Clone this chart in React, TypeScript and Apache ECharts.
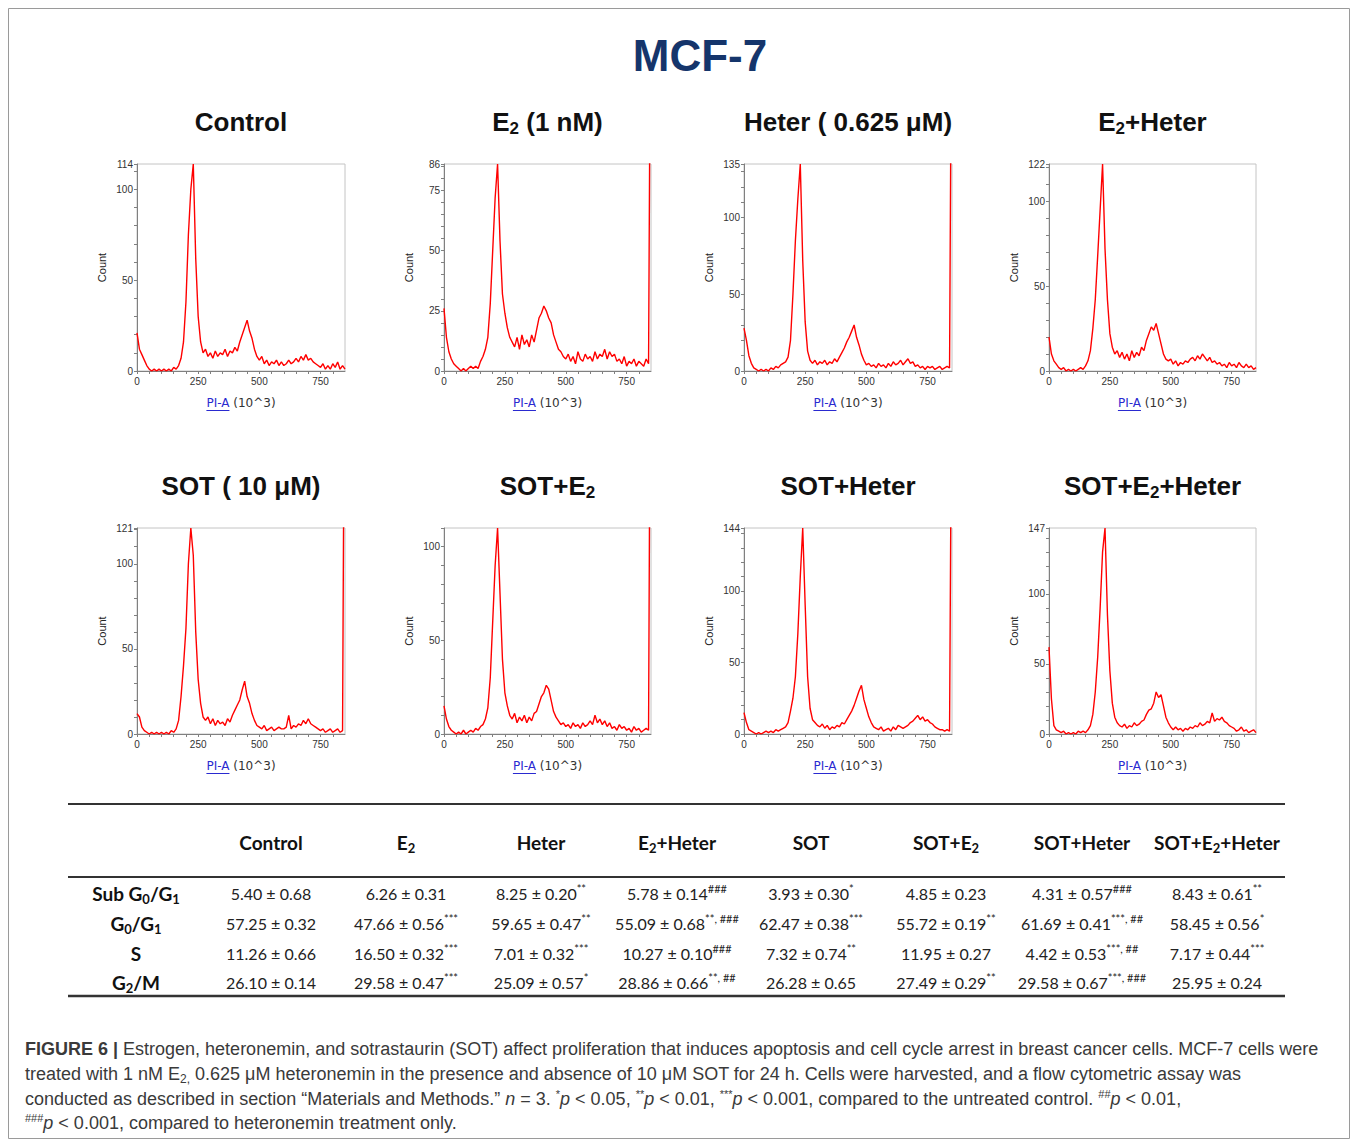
import React, { useEffect, useRef } from "react";
import * as echarts from "echarts";

// ---------- data ----------
const BINS = [
  0, 10, 20, 30, 40, 50, 60, 70, 80, 90,
  100, 110, 120, 130, 140, 150, 160, 170, 180, 190,
  200, 210, 220, 230, 240, 250, 260, 270, 280, 290,
  300, 310, 320, 330, 340, 350, 360, 370, 380, 390,
  400, 410, 420, 430, 440, 450, 460, 470, 480, 490,
  500, 510, 520, 530, 540, 550, 560, 570, 580, 590,
  600, 610, 620, 630, 640, 650, 660, 670, 680, 690,
  700, 710, 720, 730, 740, 750, 760, 770, 780, 790,
  800, 810, 820, 830, 840, 850,
];

const CONTROL = [
  21, 12, 9, 6, 3, 1, 0, 1, 0, 1,
  0, 1, 0, 1, 0, 2, 1, 3, 7, 16,
  38, 75, 100, 114, 62, 30, 16, 10, 12, 8,
  10, 7, 11, 8, 10, 9, 12, 8, 11, 10,
  13, 11, 16, 20, 24, 28, 22, 18, 12, 8,
  6, 8, 4, 6, 3, 5, 4, 6, 3, 5,
  3, 4, 6, 4, 5, 7, 5, 8, 6, 9,
  6, 7, 5, 4, 3, 2, 4, 1, 3, 1,
  4, 2, 5, 1, 3, 1,
];
const E2 = [
  26, 14, 8, 5, 3, 2, 1, 0, 1, 0,
  1, 2, 1, 2, 1, 4, 6, 9, 14, 28,
  50, 72, 86, 54, 32, 24, 18, 14, 12, 10,
  14, 9, 15, 11, 13, 10, 15, 12, 17, 22,
  24, 27, 25, 22, 20, 15, 12, 9, 8, 6,
  5, 7, 4, 6, 3, 8, 5, 4, 7, 5,
  6, 4, 8, 5, 7, 6, 9, 5, 8, 6,
  7, 4, 5, 3, 6, 2, 4, 3, 5, 2,
  4, 3, 2, 5, 3, 200,
];
const HETER = [
  28, 20, 10, 5, 2, 1, 0, 1, 0, 1,
  0, 2, 1, 3, 2, 4, 5, 6, 9, 20,
  50, 85, 112, 135, 72, 32, 13, 7, 5, 7,
  4, 6, 5, 7, 4, 6, 5, 8, 6, 9,
  12, 15, 19, 22, 26, 30, 22, 17, 11, 7,
  4, 5, 3, 4, 2, 5, 3, 4, 2, 5,
  3, 6, 4, 5, 7, 4, 6, 8, 5, 6,
  3, 4, 2, 3, 1, 3, 2, 3, 1, 2,
  3, 1, 2, 3, 2, 300,
];
const E2_HETER = [
  20, 10, 6, 4, 2, 1, 2, 0, 1, 0,
  1, 0, 1, 2, 1, 3, 6, 12, 25, 42,
  68, 95, 122, 72, 42, 22, 14, 10, 12, 8,
  11, 7, 10, 6, 12, 8, 11, 9, 14, 12,
  18, 22, 26, 24, 28, 22, 16, 10, 7, 6,
  7, 4, 6, 3, 5, 4, 6, 5, 7, 8,
  6, 9, 7, 10, 8, 6, 8, 5, 6, 4,
  5, 3, 4, 2, 5, 3, 4, 2, 5, 3,
  2, 4, 2, 3, 1, 2,
];
const SOT = [
  12, 10, 4, 2, 1, 0, 1, 0, 1, 0,
  1, 0, 1, 0, 2, 1, 3, 8, 22, 40,
  62, 100, 121, 105, 60, 32, 18, 10, 8, 10,
  6, 9, 5, 8, 6, 7, 5, 9, 7, 11,
  14, 17, 20, 26, 31, 22, 18, 12, 8, 5,
  4, 3, 5, 2, 3, 4, 2, 3, 4, 3,
  3, 4, 11, 3, 5, 4, 6, 5, 8, 6,
  9, 6, 5, 4, 3, 2, 3, 1, 2, 3,
  1, 2, 3, 1, 2, 300,
];
const SOT_E2 = [
  15, 8, 4, 2, 1, 0, 1, 0, 2, 0,
  1, 2, 1, 3, 2, 4, 5, 8, 14, 30,
  60, 90, 110, 75, 40, 22, 15, 10, 8, 11,
  6, 9, 7, 10, 6, 9, 7, 11, 12, 16,
  20, 22, 26, 24, 18, 12, 9, 7, 5, 6,
  4, 5, 3, 6, 4, 5, 3, 6, 4, 5,
  7, 5, 10, 6, 8, 5, 7, 4, 6, 3,
  4, 2, 5, 3, 4, 2, 3, 1, 4, 2,
  3, 1, 2, 3, 2, 300,
];
const SOT_HETER = [
  15, 8, 3, 2, 1, 0, 1, 0, 1, 2,
  1, 2, 1, 3, 2, 3, 4, 5, 8, 16,
  25, 40, 70, 110, 144, 90, 40, 18, 10, 8,
  6, 5, 7, 4, 6, 3, 5, 4, 6, 5,
  8, 7, 10, 13, 16, 20, 25, 30, 34, 24,
  18, 12, 8, 5, 4, 3, 5, 2, 3, 4,
  2, 5, 3, 6, 5, 4, 5, 6, 8, 9,
  11, 13, 10, 12, 9, 10, 8, 7, 5, 4,
  3, 3, 2, 3, 2, 300,
];
const SOT_E2_HETER = [
  62, 25, 6, 3, 2, 1, 2, 0, 1, 0,
  1, 0, 2, 1, 2, 1, 3, 6, 14, 30,
  55, 90, 130, 147, 85, 45, 22, 12, 8, 6,
  5, 7, 4, 6, 5, 8, 6, 7, 9, 10,
  14, 17, 18, 22, 30, 26, 28, 20, 12, 8,
  5, 3, 5, 3, 4, 2, 4, 3, 5, 4,
  6, 5, 8, 6, 7, 9, 8, 15, 9, 11,
  10, 12, 9, 8, 6, 5, 4, 2, 3, 5,
  2, 3, 1, 2, 3, 1,
];

const PANEL_DATA = [CONTROL, E2, HETER, E2_HETER, SOT, SOT_E2, SOT_HETER, SOT_E2_HETER];
const PANEL_TITLES = [
  "{t|Control}",
  "{t|E}{s|2}{t| (1 nM)}",
  "{t|Heter ( 0.625 μM)}",
  "{t|E}{s|2}{t|+Heter}",
  "{t|SOT ( 10 μM)}",
  "{t|SOT+E}{s|2}",
  "{t|SOT+Heter}",
  "{t|SOT+E}{s|2}{t|+Heter}",
];
const Y_MAX = [114, 86, 135, 122, 121, 110, 144, 147];
const Y_LABELS = [
  [0, 50, 100, 114],
  [0, 25, 50, 75, 86],
  [0, 50, 100, 135],
  [0, 50, 100, 122],
  [0, 50, 100, 121],
  [0, 50, 100],
  [0, 50, 100, 144],
  [0, 50, 100, 147],
];
const Y_TICK_STEP = [10, 5, 10, 10, 10, 10, 10, 10];
const X_LABELS = [0, 250, 500, 750];
const X_MAX = 850;

// table
const GROUPS = [
  "{h|Control}",
  "{h|E}{hs|2}",
  "{h|Heter}",
  "{h|E}{hs|2}{h|+Heter}",
  "{h|SOT}",
  "{h|SOT+E}{hs|2}",
  "{h|SOT+Heter}",
  "{h|SOT+E}{hs|2}{h|+Heter}",
];
const PHASES = [
  "{h|Sub G}{hs|0}{h|/G}{hs|1}",
  "{h|G}{hs|0}{h|/G}{hs|1}",
  "{h|S}",
  "{h|G}{hs|2}{h|/M}",
];
const SUB_MEAN = [5.40, 6.26, 8.25, 5.78, 3.93, 4.85, 4.31, 8.43];
const SUB_SD = [0.68, 0.31, 0.20, 0.14, 0.30, 0.23, 0.57, 0.61];
const SUB_SIG = ["", "", "**", "###", "*", "", "###", "**"];
const G0G1_MEAN = [57.25, 47.66, 59.65, 55.09, 62.47, 55.72, 61.69, 58.45];
const G0G1_SD = [0.32, 0.56, 0.47, 0.68, 0.38, 0.19, 0.41, 0.56];
const G0G1_SIG = ["", "***", "**", "**, ###", "***", "**", "***, ##", "*"];
const S_MEAN = [11.26, 16.50, 7.01, 10.27, 7.32, 11.95, 4.42, 7.17];
const S_SD = [0.66, 0.32, 0.32, 0.10, 0.74, 0.27, 0.53, 0.44];
const S_SIG = ["", "***", "***", "###", "**", "", "***, ##", "***"];
const G2M_MEAN = [26.10, 29.58, 25.09, 28.86, 26.28, 27.49, 29.58, 25.95];
const G2M_SD = [0.14, 0.47, 0.57, 0.66, 0.65, 0.29, 0.67, 0.24];
const G2M_SIG = ["", "***", "*", "**, ##", "", "**", "***, ###", ""];

const CAPTION = [
  "{b|FIGURE 6 | }{r|Estrogen, heteronemin, and sotrastaurin (SOT) affect proliferation that induces apoptosis and cell cycle arrest in breast cancer cells. MCF-7 cells were}",
  "{r|treated with 1 nM E}{sub|2,}{r| 0.625 μM heteronemin in the presence and absence of 10 μM SOT for 24 h. Cells were harvested, and a flow cytometric assay was}",
  "{r|conducted as described in section “Materials and Methods.” }{i|n}{r| = 3. }{sup|*}{i|p}{r| < 0.05, }{sup|**}{i|p}{r| < 0.01, }{sup|***}{i|p}{r| < 0.001, compared to the untreated control. }{sup|##}{i|p}{r| < 0.01,}",
  "{sup|###}{i|p}{r| < 0.001, compared to heteronemin treatment only.}",
];

// ---------- layout ----------
const W = 1357;
const H = 1141;
const GRID_LEFT = [137, 444, 744, 1049];
const GRID_W = [208, 207, 208, 207];
const GRID_TOP = [164, 528];
const GRID_H = [207, 206];
const TITLE_Y = [122, 486];
const ARIAL = '"Liberation Sans", Arial, Helvetica, sans-serif';
const DEJAVU = '"DejaVu Sans", Verdana, sans-serif';
const TABLE_FONT = 'Lato, "Open Sans", sans-serif';

const COL_X = [271, 406, 541, 677, 811, 946, 1082, 1217];
const ROW_LABEL_X = 136;
const HEADER_Y = 842;
const ROW_Y = [893, 923, 953, 982];

function ticks(max: number, step: number) {
  const out: number[] = [];
  for (let v = 0; v <= max; v += step) out.push(v);
  return out;
}

function buildOption() {
  const grids: any[] = [];
  const xAxes: any[] = [];
  const yAxes: any[] = [];
  const series: any[] = [];
  const graphics: any[] = [];

  // measure the axis title pieces
  const ctx = document.createElement("canvas").getContext("2d")!;
  ctx.font = '12px "DejaVu Sans"';
  const wA = ctx.measureText("PI-A").width;
  const wSp = ctx.measureText(" ").width;
  const wB = ctx.measureText("(10^3)").width;

  for (let i = 0; i < 8; i++) {
    const col = i % 4;
    const row = Math.floor(i / 4);
    const left = GRID_LEFT[col];
    const width = GRID_W[col];
    const top = GRID_TOP[row];
    const height = GRID_H[row];
    grids.push({
      left,
      top,
      width,
      height,
      show: true,
      borderColor: "#c4c4c4",
      borderWidth: 1,
      backgroundColor: "transparent",
      containLabel: false,
      outerBoundsMode: "none",
    });
    xAxes.push({
      type: "value",
      gridIndex: i,
      min: 0,
      max: X_MAX,
      axisLine: { show: true, onZero: false, lineStyle: { color: "#808080", width: 1 } },
      axisTick: {
        show: true,
        length: 3,
        customValues: ticks(X_MAX - 50, 50),
        lineStyle: { color: "#808080" },
      },
      axisLabel: {
        customValues: X_LABELS,
        fontSize: 10,
        color: "#333",
        fontFamily: ARIAL,
        margin: 5,
      },
      splitLine: { show: false },
    });
    yAxes.push({
      type: "value",
      gridIndex: i,
      min: 0,
      max: Y_MAX[i],
      axisLine: { show: true, onZero: false, lineStyle: { color: "#808080", width: 1 } },
      axisTick: {
        show: true,
        length: 3,
        customValues: ticks(Y_MAX[i], Y_TICK_STEP[i]).concat([Y_MAX[i]]),
        lineStyle: { color: "#808080" },
      },
      axisLabel: {
        customValues: Y_LABELS[i],
        fontSize: 10,
        color: "#333",
        fontFamily: ARIAL,
        margin: 4,
      },
      splitLine: { show: false },
      name: "Count",
      nameLocation: "middle",
      nameGap: 30,
      nameRotate: 90,
      nameTextStyle: { fontSize: 11, color: "#222", fontFamily: ARIAL },
    });
    series.push({
      type: "line",
      xAxisIndex: i,
      yAxisIndex: i,
      data: BINS.map((x, k) => [x, PANEL_DATA[i][k]]),
      symbol: "none",
      clip: true,
      lineStyle: { color: "#ff0000", width: 1.4 },
      itemStyle: { color: "#ff0000" },
      silent: true,
    });

    // panel title
    graphics.push({
      type: "text",
      x: left + width / 2,
      y: TITLE_Y[row],
      style: {
        text: PANEL_TITLES[i],
        align: "center",
        verticalAlign: "middle",
        rich: {
          t: { fontSize: 26, fontWeight: "bold", fontFamily: ARIAL, fill: "#111", color: "#111", lineHeight: 30 },
          s: {
            fontSize: 17,
            fontWeight: "bold",
            fontFamily: ARIAL,
            fill: "#111",
            color: "#111",
            lineHeight: 17,
            verticalAlign: "bottom",
          },
        },
      },
    });

    // x axis title: PI-A (10^3)
    const cx = left + width / 2;
    const ny = top + height + 32;
    const x0 = cx - (wA + wSp + wB) / 2;
    graphics.push({
      type: "text",
      x: x0,
      y: ny,
      style: {
        text: "PI-A",
        fontSize: 12,
        fontFamily: DEJAVU,
        fill: "#2a2ad0",
        align: "left",
        verticalAlign: "middle",
      },
    });
    graphics.push({
      type: "line",
      shape: { x1: x0, y1: ny + 7.5, x2: x0 + wA, y2: ny + 7.5 },
      style: { stroke: "#2a2ad0", lineWidth: 1 },
    });
    graphics.push({
      type: "text",
      x: x0 + wA + wSp,
      y: ny,
      style: {
        text: "(10^3)",
        fontSize: 12,
        fontFamily: DEJAVU,
        fill: "#333",
        align: "left",
        verticalAlign: "middle",
      },
    });
  }

  // outer frame
  graphics.push({
    type: "rect",
    shape: { x: 8.5, y: 8.5, width: 1341, height: 1130 },
    style: { fill: "none", stroke: "#9a9a9a", lineWidth: 1 },
    z: -1,
  });

  // main title
  graphics.push({
    type: "text",
    x: 700,
    y: 55,
    style: {
      text: "MCF-7",
      fontSize: 44,
      fontWeight: "bold",
      fontFamily: ARIAL,
      fill: "#15356b",
      align: "center",
      verticalAlign: "middle",
    },
  });

  // table rules
  const rule = (y: number, w: number) => ({
    type: "line",
    shape: { x1: 68, y1: y, x2: 1285, y2: y },
    style: { stroke: "#333", lineWidth: w },
  });
  graphics.push(rule(804, 2), rule(877, 2), rule(996, 2.5));

  const headRich = {
    h: { fontSize: 19, fontWeight: "bold", fontFamily: TABLE_FONT, fill: "#111", color: "#111", lineHeight: 24 },
    hs: {
      fontSize: 13,
      fontWeight: "bold",
      fontFamily: TABLE_FONT,
      fill: "#111",
      color: "#111",
      lineHeight: 13,
      verticalAlign: "bottom",
    },
  };
  GROUPS.forEach((g, c) => {
    graphics.push({
      type: "text",
      x: COL_X[c],
      y: HEADER_Y,
      style: { text: g, align: "center", verticalAlign: "middle", rich: headRich },
    });
  });
  PHASES.forEach((p, r) => {
    graphics.push({
      type: "text",
      x: ROW_LABEL_X,
      y: ROW_Y[r],
      style: { text: p, align: "center", verticalAlign: "middle", rich: headRich },
    });
  });

  const cellRich = {
    v: { fontSize: 16, fontFamily: TABLE_FONT, fill: "#222", color: "#222", lineHeight: 20 },
    sup: {
      fontSize: 11,
      fontFamily: TABLE_FONT,
      fill: "#222",
      color: "#222",
      lineHeight: 10,
      verticalAlign: "top",
    },
  };
  const rows = [
    [SUB_MEAN, SUB_SD, SUB_SIG],
    [G0G1_MEAN, G0G1_SD, G0G1_SIG],
    [S_MEAN, S_SD, S_SIG],
    [G2M_MEAN, G2M_SD, G2M_SIG],
  ] as [number[], number[], string[]][];
  rows.forEach(([m, s, sig], r) => {
    for (let c = 0; c < 8; c++) {
      const txt =
        "{v|" + m[c].toFixed(2) + " ± " + s[c].toFixed(2) + "}" + (sig[c] ? "{sup|" + sig[c] + "}" : "");
      graphics.push({
        type: "text",
        x: COL_X[c],
        y: ROW_Y[r],
        style: { text: txt, align: "center", verticalAlign: "middle", rich: cellRich },
      });
    }
  });

  // caption
  const capRich = {
    r: { fontSize: 18, fontFamily: ARIAL, fill: "#3a3a3a", color: "#3a3a3a", lineHeight: 22 },
    b: { fontSize: 18, fontWeight: "bold", fontFamily: ARIAL, fill: "#3a3a3a", color: "#3a3a3a", lineHeight: 22 },
    i: { fontSize: 18, fontStyle: "italic", fontFamily: ARIAL, fill: "#3a3a3a", color: "#3a3a3a", lineHeight: 22 },
    sup: { fontSize: 11, fontFamily: ARIAL, fill: "#3a3a3a", color: "#3a3a3a", lineHeight: 11, verticalAlign: "top" },
    sub: { fontSize: 12, fontFamily: ARIAL, fill: "#3a3a3a", color: "#3a3a3a", lineHeight: 12, verticalAlign: "bottom" },
  };
  const CAP_Y = [1049, 1074, 1099, 1123];
  CAPTION.forEach((line, k) => {
    graphics.push({
      type: "text",
      x: 25,
      y: CAP_Y[k],
      style: { text: line, align: "left", verticalAlign: "middle", rich: capRich },
    });
  });

  return {
    animation: false,
    backgroundColor: "#ffffff",
    grid: grids,
    xAxis: xAxes,
    yAxis: yAxes,
    series,
    graphic: { elements: graphics },
  };
}

export default function App() {
  const ref = useRef<HTMLDivElement>(null);
  useEffect(() => {
    document.body.style.margin = "0";
    const el = ref.current!;
    const chart = echarts.init(el, null, { renderer: "svg", width: W, height: H });
    chart.setOption(buildOption() as any);
    return () => {
      chart.dispose();
    };
  }, []);
  return <div ref={ref} style={{ width: W, height: H, background: "#fff" }} />;
}
